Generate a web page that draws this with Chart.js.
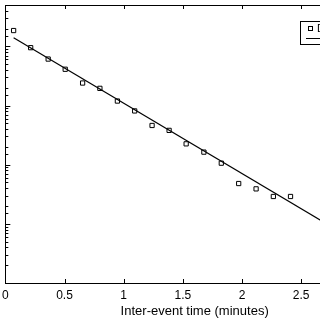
<!DOCTYPE html>
<html>
<head>
<meta charset="utf-8">
<script src="https://cdn.jsdelivr.net/npm/chart.js@4"></script>
<style>
  html, body { margin: 0; padding: 0; background: #fff; overflow: hidden; }
  #wrap { width: 410px; height: 320px; margin-left: -3px; }
</style>
</head>
<body>
<div id="wrap"><canvas id="c" width="410" height="320"></canvas></div>
<script>
// data
const interEventTime = [0.07, 0.214, 0.362, 0.506, 0.653, 0.799, 0.947, 1.093, 1.24, 1.384, 1.528, 1.678, 1.825, 1.972, 2.119, 2.265, 2.41];
const density = [1.85, 0.95, 0.61, 0.41, 0.24, 0.195, 0.119, 0.081, 0.046, 0.038, 0.0225, 0.0163, 0.0106, 0.0048, 0.0039, 0.0029, 0.0029];
const fitX = [0.07, 3.2];
const fitY = [1.393, 0.000266];
const xTickLabels = ['0', '0.5', '1', '1.5', '2', '2.5', '3'];

const FONT = 'Liberation Sans, Arial, Helvetica, sans-serif';

// inward tick marks (matlab style)
const tickMarks = {
    id: 'tickMarks',
    afterDraw(chart) {
        const { ctx, chartArea: a, scales: { x, y } } = chart;
        ctx.save();
        ctx.strokeStyle = '#000';
        ctx.lineWidth = 1;
        ctx.beginPath();
        x.ticks.forEach(t => {
            const px = Math.round(x.getPixelForValue(t.value)) + 0.5;
            ctx.moveTo(px, a.bottom); ctx.lineTo(px, a.bottom - 4);
            ctx.moveTo(px, a.top); ctx.lineTo(px, a.top + 4);
        });
        y.ticks.forEach(t => {
            const py = Math.round(y.getPixelForValue(t.value)) + 0.5;
            const major = Math.abs(Math.log10(t.value) - Math.round(Math.log10(t.value))) < 1e-6;
            ctx.moveTo(a.left, py); ctx.lineTo(a.left + (major ? 5 : 3), py);
        });
        ctx.stroke();
        ctx.restore();
    }
};

// legend box in the top right corner (mostly cropped)
const boxLegend = {
    id: 'boxLegend',
    afterDraw(chart) {
        const ctx = chart.ctx;
        const ox = 3; // canvas is shifted left by 3px
        ctx.save();
        ctx.fillStyle = '#fff';
        ctx.fillRect(ox + 300, 21, 80, 23);
        ctx.strokeStyle = '#000';
        ctx.lineWidth = 1;
        ctx.strokeRect(ox + 300.5, 21.5, 80, 23);
        ctx.strokeRect(ox + 308.5, 26.5, 4, 4);
        ctx.beginPath();
        ctx.moveTo(ox + 306, 38.5); ctx.lineTo(ox + 330, 38.5);
        ctx.stroke();
        ctx.fillStyle = '#000';
        ctx.font = '11px ' + FONT;
        ctx.textBaseline = 'middle';
        ctx.fillText('Data', ox + 317, 29);
        ctx.fillText('Fit', ox + 334, 39);
        ctx.restore();
    }
};

new Chart(document.getElementById('c'), {
    data: {
        datasets: [{
            type: 'scatter',
            label: 'Data',
            data: interEventTime.map((t, i) => ({ x: t, y: density[i] })),
            pointStyle: 'rect',
            pointRadius: 3,
            pointBorderWidth: 1,
            pointBorderColor: '#000',
            pointBackgroundColor: 'rgba(0,0,0,0)'
        }, {
            type: 'line',
            label: 'Fit',
            data: fitX.map((t, i) => ({ x: t, y: fitY[i] })),
            borderColor: '#000',
            borderWidth: 1.2,
            pointRadius: 0,
            tension: 0
        }]
    },
    options: {
        responsive: false,
        animation: false,
        devicePixelRatio: 1,
        layout: { padding: { left: 0, right: 23, top: 0, bottom: 0 } },
        plugins: { legend: { display: false }, tooltip: { enabled: false } },
        scales: {
            x: {
                type: 'linear',
                position: 'bottom',
                min: 0, max: 3.2,
                grid: { display: false, drawTicks: false },
                border: { display: true, color: '#000', width: 1 },
                ticks: {
                    stepSize: 0.5,
                    padding: 5,
                    color: '#000',
                    maxRotation: 0,
                    font: { family: FONT, size: 12 },
                    callback: v => {
                        const i = Math.round(v / 0.5);
                        return Math.abs(v - i * 0.5) < 1e-9 ? xTickLabels[i] : '';
                    }
                },
                title: {
                    display: true,
                    text: 'Inter-event time (minutes)',
                    color: '#000',
                    font: { family: FONT, size: 13 },
                    padding: { top: 2, bottom: 1 }
                },
                afterFit: s => { s.height = 37; }
            },
            x2: {
                type: 'linear',
                position: 'top',
                min: 0, max: 3.2,
                grid: { display: false, drawTicks: false },
                border: { display: true, color: '#000', width: 1 },
                ticks: { display: false },
                afterFit: s => { s.height = 1; }
            },
            y: {
                type: 'logarithmic',
                position: 'left',
                min: 0.0001, max: 5,
                grid: { display: false, drawTicks: false },
                border: { display: true, color: '#000', width: 1 },
                ticks: { display: false },
                afterFit: s => { s.width = 4; }
            }
        }
    },
    plugins: [tickMarks, boxLegend]
});
</script>
</body>
</html>
